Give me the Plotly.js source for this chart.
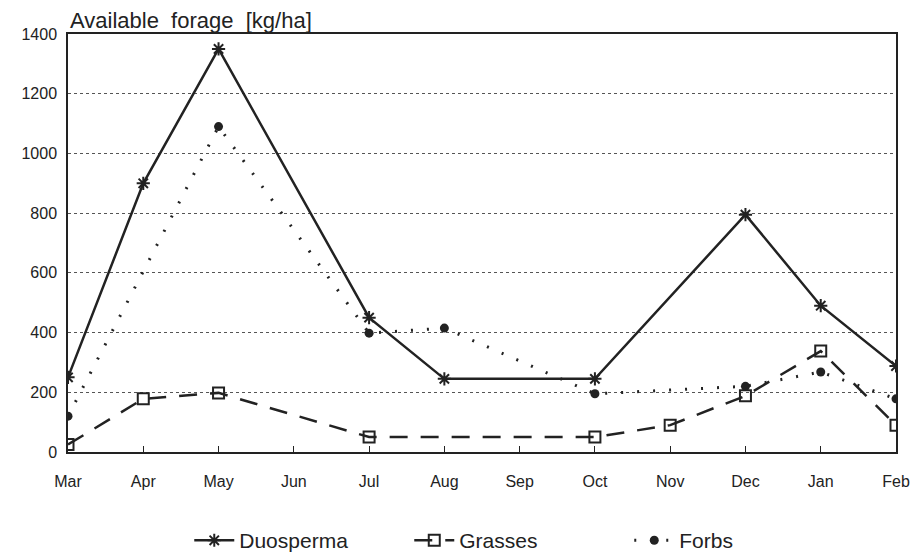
<!DOCTYPE html>
<html><head><meta charset="utf-8">
<script src="https://cdn.plot.ly/plotly-3.0.1.min.js"></script>
<style>body{margin:0;background:#fff}#c{width:924px;height:555px}</style>
</head><body><div id="c"></div>
<script>
const months = ["Mar","Apr","May","Jun","Jul","Aug","Sep","Oct","Nov","Dec","Jan","Feb"];
const duoX = ["Mar","Apr","May","Jul","Aug","Oct","Dec","Jan","Feb"];
const duoY = [250, 900, 1350, 450, 245, 245, 795, 490, 288];
const grassX = ["Mar","Apr","May","Jul","Oct","Nov","Dec","Jan","Feb"];
const grassY = [25, 178, 198, 50, 50, 90, 188, 338, 90];
const forbX = ["Mar","May","Jul","Aug","Oct","Dec","Jan","Feb"];
const forbY = [120, 1090, 398, 415, 195, 220, 268, 178];
const ink = "#222";
const traces = [
  {x: duoX, y: duoY, name: "Duosperma", mode: "lines+markers", type: "scatter",
   line: {color: ink, width: 2.5},
   marker: {symbol: "asterisk-open", size: 11, color: ink, line: {color: ink, width: 2}}},
  {x: grassX, y: grassY, name: "Grasses", mode: "lines+markers", type: "scatter",
   line: {color: ink, width: 2.5, dash: "18px,13px"},
   marker: {symbol: "square-open", size: 11, color: ink, line: {color: ink, width: 2}}},
  {x: forbX, y: forbY, name: "Forbs", mode: "lines+markers", type: "scatter",
   line: {color: ink, width: 3, dash: "2px,14px"},
   marker: {symbol: "circle", size: 9, color: ink}}
];
const layout = {
  width: 924, height: 555,
  margin: {l: 68, r: 28, t: 34, b: 103, autoexpand: false},
  paper_bgcolor: "#fff", plot_bgcolor: "#fff",
  font: {family: "Liberation Sans, Arial, sans-serif", color: ink, size: 16},
  showlegend: true,
  legend: {orientation: "h", x: 0.545, xanchor: "center", y: -0.212, yanchor: "middle",
           font: {size: 21}, entrywidth: 165, itemwidth: 40},
  xaxis: {type: "category", categoryorder: "array", categoryarray: months,
          range: [0, 11], showgrid: false, zeroline: false,
          showline: true, linecolor: ink, linewidth: 1.5, mirror: true,
          ticks: "inside", ticklen: 6, tickcolor: ink, tickfont: {size: 16},
          ticklabelstandoff: 14},
  yaxis: {range: [0, 1400], dtick: 200, showgrid: true, gridcolor: "#555",
          griddash: "dot", gridwidth: 1, zeroline: false,
          showline: true, linecolor: ink, linewidth: 1.5, mirror: true,
          ticks: "", tickfont: {size: 16}, ticklabelstandoff: 6},
  annotations: [{text: "Available&nbsp; forage&nbsp; [kg/ha]", xref: "paper", yref: "paper",
                 x: 0.0, y: 1, xanchor: "left", yanchor: "bottom", yshift: -1,
                 showarrow: false, font: {size: 22, color: ink}}]
};
Plotly.newPlot("c", traces, layout, {displayModeBar: false});
</script></body></html>
